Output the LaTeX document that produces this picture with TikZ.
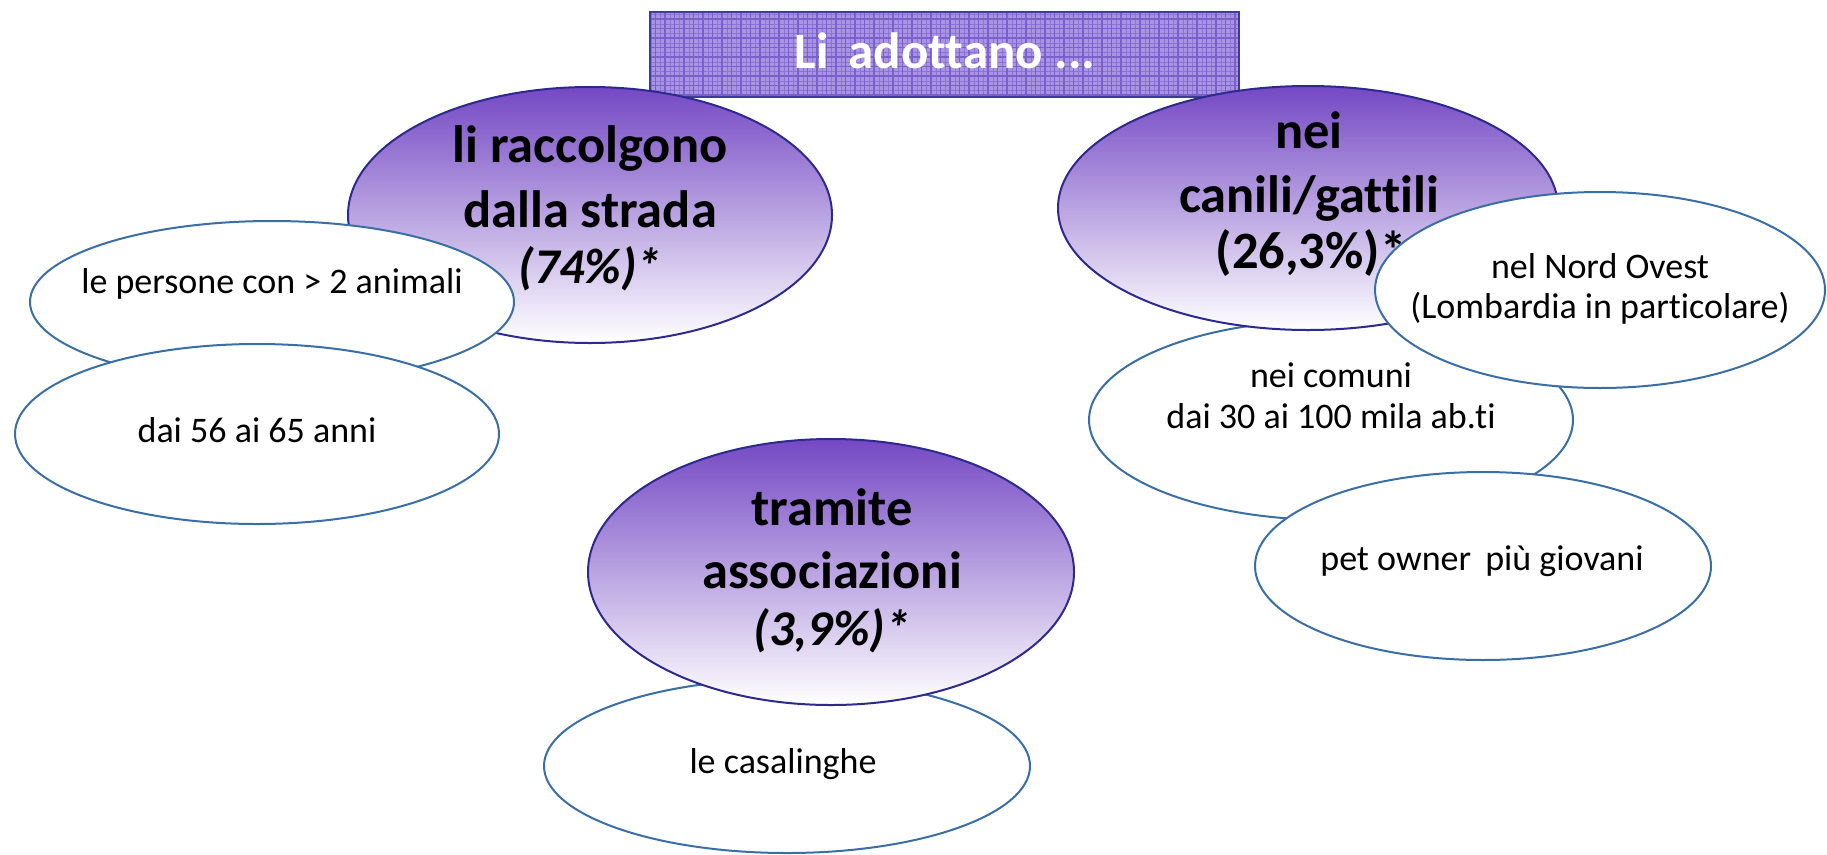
\documentclass[tikz,border=0pt]{standalone}
\usepackage{fontspec}
\setmainfont{Carlito}[Ligatures=NoCommon]
\usetikzlibrary{shapes.geometric}
\definecolor{ptop}{RGB}{116,72,196}
\definecolor{pedge}{RGB}{44,42,140}
\definecolor{bedge}{RGB}{58,110,165}
\definecolor{tfill}{RGB}{168,148,226}
\definecolor{tgrid}{RGB}{122,96,202}
\definecolor{tgridl}{RGB}{140,116,212}
\definecolor{tedge}{RGB}{60,60,156}
\tikzset{
  bigell/.style={ellipse, draw=pedge, line width=2pt, top color=ptop, bottom color=white, inner sep=0pt, outer sep=0pt},
  smallell/.style={ellipse, draw=bedge, line width=2pt, fill=white, inner sep=0pt, outer sep=0pt},
  bigtxt/.style={anchor=base, inner sep=0pt, font=\fontsize{52.5}{60}\selectfont\bfseries},
  bigit/.style={anchor=base, inner sep=0pt, font=\fontsize{50}{60}\selectfont\bfseries\itshape},
  smalltxt/.style={anchor=base, inner sep=0pt, font=\fontsize{36}{40}\selectfont},
  titletxt/.style={anchor=base, inner sep=0pt, text=white, font=\fontsize{51}{56}\selectfont\bfseries}
}
\begin{document}
\begin{tikzpicture}[x=1pt,y=-1pt]
\useasboundingbox (0,0) rectangle (1827,854);
% title box
\fill[tfill] (650,12) rectangle (1239,97);
\begin{scope}
\clip (650,12) rectangle (1239,97);
\draw[tgridl, line width=0.5pt] (650,12) grid[step=4.75pt] (1239,97);
\draw[tgrid, line width=1.4pt] (650,12) grid[step=9.5pt] (1239,97);
\end{scope}
\draw[tedge, line width=2pt] (650,12) rectangle (1239,97);
\node[titletxt] (title) at (945,68) {Li\, adottano ...};

% left group
\node[bigell, minimum width=484pt, minimum height=256pt] (e1) at (590,215) {};
\node[bigtxt] (e1a) at (590,162) {li raccolgono};
\node[bigtxt] (e1b) at (590,227) {dalla strada};
\node[bigit] (e1c) at (590,283) {(74\%)*};
\node[smallell, minimum width=484pt, minimum height=162pt] (s1) at (272,302) {};
\node[smalltxt] (s1t) at (272,293) {le persone con > 2 animali};
\node[smallell, minimum width=484pt, minimum height=180pt] (s2) at (257,434) {};
\node[smalltxt] (s2t) at (257,442) {dai 56 ai 65 anni};

% right group
\node[smallell, minimum width=484pt, minimum height=200pt] (s3) at (1331,420) {};
\node[smalltxt] (s3a) at (1331,387) {nei comuni};
\node[smalltxt] (s3b) at (1331,428) {dai 30 ai 100 mila ab.ti};
\node[bigell, minimum width=500pt, minimum height=244pt] (e2) at (1308,208) {};
\node[bigtxt] (e2a) at (1309,148) {nei};
\node[bigtxt] (e2b) at (1309,212) {canili/gattili};
\node[bigtxt] (e2c) at (1311,268) {(26,3\%)*};
\node[smallell, minimum width=450pt, minimum height=196pt] (s4) at (1600,290) {};
\node[smalltxt] (s4a) at (1600,278) {nel Nord Ovest};
\node[smalltxt] (s4b) at (1600,318) {(Lombardia in particolare)};
\node[smallell, minimum width=456pt, minimum height=188pt] (s5) at (1483,566) {};
\node[smalltxt] (s5t) at (1482,570) {pet owner\, più giovani};

% bottom group
\node[smallell, minimum width=486pt, minimum height=174pt] (s6) at (787,766) {};
\node[smalltxt] (s6t) at (783,773) {le casalinghe};
\node[bigell, minimum width=486pt, minimum height=266pt] (e3) at (831,572) {};
\node[bigtxt] (e3a) at (832,525) {tramite};
\node[bigtxt] (e3b) at (832,588) {associazioni};
\node[bigit] (e3c) at (832,645) {(3,9\%)*};
\end{tikzpicture}
\end{document}
